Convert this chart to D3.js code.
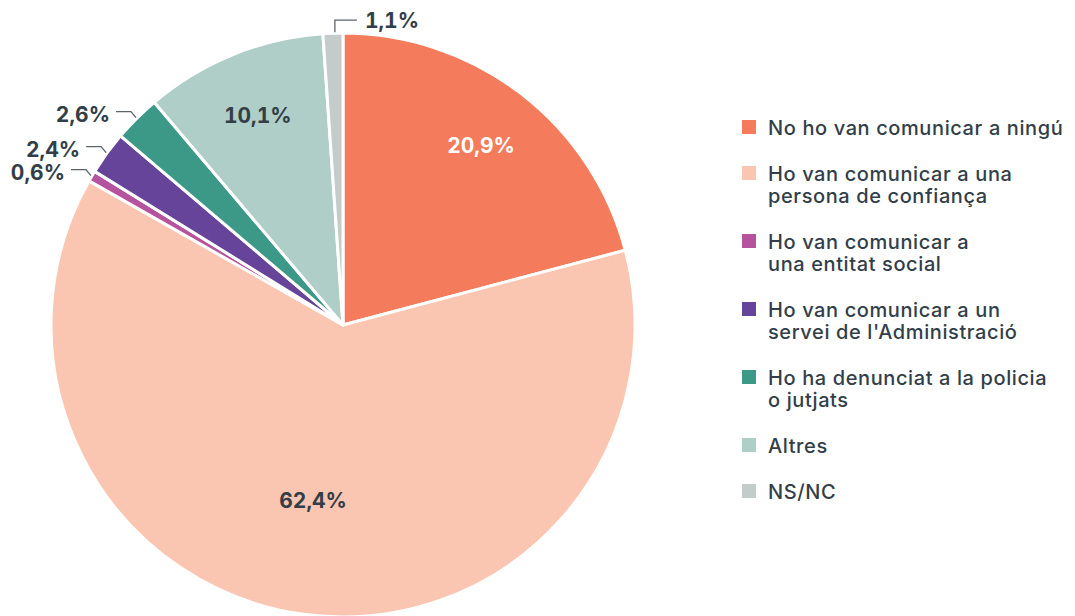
<!DOCTYPE html>
<html>
<head>
<meta charset="utf-8">
<script src="https://cdn.jsdelivr.net/npm/d3@7"></script>
<style>
  html, body { margin: 0; padding: 0; background: #fff; }
  svg { display: block; }
  text { font-family: Inter, "Liberation Sans", Arial, sans-serif; font-variant-numeric: tabular-nums; }
</style>
</head>
<body>
<svg id="chart" width="1075" height="616"></svg>
<script>
// Categories, shares (%) and colours, clockwise from 12 o'clock
const categories = [
  "No ho van comunicar a ningú",
  "Ho van comunicar a una persona de confiança",
  "Ho van comunicar a una entitat social",
  "Ho van comunicar a un servei de l'Administració",
  "Ho ha denunciat a la policia o jutjats",
  "Altres",
  "NS/NC"
];
const legendLines = [
  ["No ho van comunicar a ningú"],
  ["Ho van comunicar a una", "persona de confiança"],
  ["Ho van comunicar a", "una entitat social"],
  ["Ho van comunicar a un", "servei de l'Administració"],
  ["Ho ha denunciat a la policia", "o jutjats"],
  ["Altres"],
  ["NS/NC"]
];
const values = [20.9, 62.4, 0.6, 2.4, 2.6, 10.1, 1.1];
const colors = ["#F47B5B", "#FAC6B1", "#B6539F", "#65449A", "#3D9987", "#AECEC7", "#C3CCCA"];

const fmt = v => v.toFixed(1).replace(".", ",") + "%";
const textColor = "#323E48";

const svg = d3.select("#chart");
const cx = 343, cy = 325, R = 292;

const pie = d3.pie().sort(null).value(d => d.value);
const arcs = pie(values.map((v, i) => ({ value: v, name: categories[i], color: colors[i] })));
const arc = d3.arc().innerRadius(0).outerRadius(R);

const g = svg.append("g").attr("transform", `translate(${cx},${cy})`);

g.selectAll("path.slice")
  .data(arcs)
  .join("path")
  .attr("class", "slice")
  .attr("d", arc)
  .attr("fill", d => d.data.color)
  .attr("stroke", "#fff")
  .attr("stroke-width", 3)
  .attr("stroke-linejoin", "round");

const mid = d => (d.startAngle + d.endAngle) / 2;
const polar = (a, r) => [r * Math.sin(a), -r * Math.cos(a)];

// Labels inside the larger slices (the dominant slice gets its label nearer the centre)
const inside = arcs.filter(d => d.data.value >= 5);
const labelPos = d => d.data.value > 50
  ? polar(mid(d) + 0.04, R * 0.61)
  : polar(mid(d), R * 0.775);
g.selectAll("text.inner")
  .data(inside)
  .join("text")
  .attr("class", "inner")
  .attr("x", d => labelPos(d)[0])
  .attr("y", d => labelPos(d)[1])
  .attr("dy", "0.36em")
  .attr("text-anchor", "middle")
  .attr("font-size", 21)
  .attr("font-weight", "bold")
  .attr("fill", (d, i) => i === 0 ? "#fff" : textColor)
  .text(d => fmt(d.data.value));

// Labels with leader lines for the small slices
const outside = arcs.filter(d => d.data.value < 5);
outside.forEach(d => {
  const a = mid(d);
  const [x0, y0] = polar(a, R + 1);
  let pts, tx, ty, anchor;
  if (a > Math.PI * 1.9) {
    const x1 = x0 + 2, y1 = y0 - 12;
    pts = [[x1, y0], [x1, y1], [x1 + 22, y1]];
    tx = x1 + 30; ty = y1; anchor = "start";
  } else {
    const x1 = x0 - 5, y1 = y0 - 6;
    pts = [[x0, y0], [x1, y1], [x1 - 15, y1]];
    tx = x1 - 21; ty = y1 + 3; anchor = "end";
  }
  g.append("path")
    .attr("d", d3.line()(pts))
    .attr("fill", "none")
    .attr("stroke", "#5B646B")
    .attr("stroke-width", 1.3);
  g.append("text")
    .attr("x", tx)
    .attr("y", ty)
    .attr("dy", "0.36em")
    .attr("text-anchor", anchor)
    .attr("font-size", 21)
    .attr("font-weight", "bold")
    .attr("fill", textColor)
    .text(fmt(d.data.value));
});

// Legend
const legend = svg.append("g").attr("transform", "translate(742,0)");
const lineH = 22, gap = 24;
let y = 128;
legendLines.forEach((lines, i) => {
  const item = legend.append("g").attr("transform", `translate(0,${y})`);
  item.append("rect")
    .attr("x", 0).attr("y", -8)
    .attr("width", 14).attr("height", 14)
    .attr("fill", colors[i]);
  const t = item.append("text")
    .attr("x", 26)
    .attr("y", 0)
    .attr("font-size", 20)
    .attr("font-weight", 500)
    .attr("letter-spacing", 0.6)
    .attr("fill", textColor);
  lines.forEach((ln, j) => {
    t.append("tspan").attr("x", 26).attr("y", j * lineH).attr("dy", "0.35em").text(ln);
  });
  y += lines.length * lineH + gap;
});
</script>
</body>
</html>
